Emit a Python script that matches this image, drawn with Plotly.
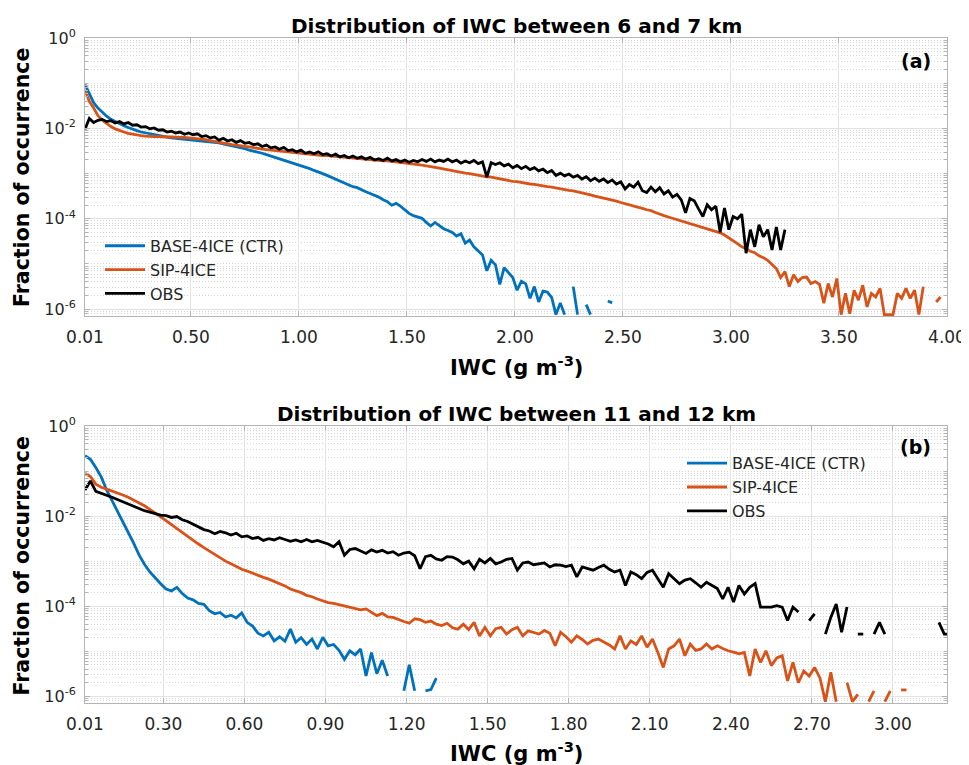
import plotly.graph_objects as go

# IWC bins: 0.01, 0.03, 0.05 ... g m-3 (step 0.02)
BIN_START = 0.01
BIN_STEP = 0.02

# log10(fraction of occurrence); None = empty bin
# ---- panel (a): 6-7 km ----
base_a = [
    -1.03, -1.25, -1.43, -1.55, -1.65, -1.73, -1.80, -1.85, -1.90, -1.94,   # 0.01
    -1.98, -2.02, -2.05, -2.08, -2.10, -2.12, -2.14, -2.16, -2.18, -2.20,   # 0.21
    -2.21, -2.22, -2.23, -2.24, -2.25, -2.25, -2.26, -2.27, -2.28, -2.29,   # 0.41
    -2.31, -2.32, -2.34, -2.36, -2.38, -2.40, -2.43, -2.45, -2.48, -2.50,   # 0.61
    -2.53, -2.55, -2.58, -2.61, -2.65, -2.68, -2.71, -2.74, -2.77, -2.80,   # 0.81
    -2.83, -2.86, -2.89, -2.93, -2.96, -3.00, -3.04, -3.08, -3.12, -3.17,   # 1.01
    -3.21, -3.25, -3.29, -3.31, -3.36, -3.40, -3.44, -3.48, -3.52, -3.58,   # 1.21
    -3.62, -3.70, -3.66, -3.72, -3.80, -3.88, -3.93, -3.96, -3.99, -4.08,   # 1.41
    -4.16, -4.08, -4.15, -4.22, -4.26, -4.30, -4.38, -4.33, -4.54, -4.47,   # 1.61
    -4.62, -4.70, -4.80, -5.15, -4.92, -5.02, -5.45, -5.08, -5.20, -5.30,   # 1.81
    -5.58, -5.38, -5.44, -5.76, -5.50, -5.84, -5.60, -5.62, -5.74, -6.12,   # 2.01
    -5.86, -6.12, None, -5.50, -6.12, None, -5.90, -6.12, None, None,       # 2.21
    None, -5.82, -5.86,                                                     # 2.41
]
sip_a = [
    -1.15, -1.40, -1.55, -1.72, -1.82, -1.90, -1.96, -2.01, -2.05, -2.08,   # 0.01
    -2.11, -2.13, -2.15, -2.16, -2.17, -2.18, -2.18, -2.18, -2.19, -2.19,   # 0.21
    -2.19, -2.20, -2.20, -2.20, -2.21, -2.21, -2.22, -2.23, -2.25, -2.27,   # 0.41
    -2.29, -2.31, -2.33, -2.34, -2.36, -2.37, -2.39, -2.40, -2.41, -2.43,   # 0.61
    -2.44, -2.46, -2.47, -2.48, -2.50, -2.51, -2.52, -2.53, -2.54, -2.55,   # 0.81
    -2.56, -2.57, -2.57, -2.58, -2.59, -2.60, -2.60, -2.61, -2.62, -2.63,   # 1.01
    -2.64, -2.64, -2.65, -2.66, -2.67, -2.68, -2.69, -2.70, -2.71, -2.72,   # 1.21
    -2.72, -2.73, -2.74, -2.75, -2.76, -2.77, -2.78, -2.80, -2.81, -2.83,   # 1.41
    -2.84, -2.86, -2.88, -2.90, -2.92, -2.93, -2.95, -2.97, -2.99, -3.00,   # 1.61
    -3.02, -3.04, -3.05, -3.07, -3.08, -3.10, -3.11, -3.13, -3.15, -3.17,   # 1.81
    -3.18, -3.20, -3.21, -3.23, -3.24, -3.26, -3.27, -3.29, -3.30, -3.32,   # 2.01
    -3.33, -3.35, -3.37, -3.38, -3.40, -3.42, -3.44, -3.47, -3.50, -3.52,   # 2.21
    -3.54, -3.56, -3.58, -3.61, -3.64, -3.66, -3.69, -3.72, -3.74, -3.77,   # 2.41
    -3.80, -3.82, -3.86, -3.90, -3.93, -3.96, -3.99, -4.02, -4.05, -4.08,   # 2.61
    -4.11, -4.14, -4.16, -4.20, -4.22, -4.25, -4.28, -4.31, -4.36, -4.42,   # 2.81
    -4.48, -4.55, -4.62, -4.66, -4.72, -4.75, -4.82, -4.86, -4.92, -5.00,   # 3.01
    -5.10, -5.30, -5.17, -5.50, -5.24, -5.39, -5.30, -5.29, -5.43, -5.39,   # 3.21
    -5.45, -5.87, -5.43, -5.73, -5.32, -6.12, -5.65, -6.10, -5.58, -5.80,   # 3.41
    -5.47, -5.95, -5.65, -5.73, -5.54, -6.12, -6.12, -6.12, -5.65, -5.76,   # 3.61
    -5.54, -5.76, -5.58, -6.12, -5.50, None, None, -5.84, -5.73,            # 3.81
]
obs_a = [
    -2.02, -1.78, -1.87, -1.82, -1.80, -1.85, -1.83, -1.88, -1.85, -1.90,   # 0.01
    -1.87, -1.93, -1.92, -1.97, -1.96, -2.01, -1.99, -2.04, -2.03, -2.08,   # 0.21
    -2.06, -2.10, -2.08, -2.13, -2.10, -2.14, -2.12, -2.18, -2.16, -2.21,   # 0.41
    -2.19, -2.26, -2.22, -2.28, -2.25, -2.31, -2.27, -2.33, -2.31, -2.36,   # 0.61
    -2.34, -2.40, -2.37, -2.43, -2.41, -2.46, -2.42, -2.49, -2.47, -2.52,   # 0.81
    -2.48, -2.55, -2.52, -2.56, -2.52, -2.58, -2.56, -2.61, -2.57, -2.63,   # 1.01
    -2.60, -2.65, -2.61, -2.66, -2.63, -2.68, -2.64, -2.70, -2.67, -2.71,   # 1.21
    -2.66, -2.72, -2.69, -2.74, -2.70, -2.75, -2.71, -2.74, -2.69, -2.73,   # 1.41
    -2.68, -2.74, -2.70, -2.73, -2.68, -2.74, -2.70, -2.77, -2.72, -2.76,   # 1.61
    -2.71, -2.78, -2.74, -3.08, -2.76, -2.80, -2.76, -2.83, -2.79, -2.87,   # 1.81
    -2.82, -2.89, -2.84, -2.91, -2.87, -2.94, -2.90, -2.98, -2.93, -3.04,   # 2.01
    -2.99, -3.05, -3.01, -3.08, -3.04, -3.12, -3.07, -3.16, -3.10, -3.17,   # 2.21
    -3.12, -3.20, -3.14, -3.23, -3.18, -3.34, -3.24, -3.30, -3.19, -3.38,   # 2.41
    -3.42, -3.30, -3.40, -3.31, -3.45, -3.38, -3.52, -3.46, -3.58, -3.87,   # 2.61
    -3.55, -3.60, -3.78, -3.95, -3.69, -3.80, -3.72, -4.30, -3.76, -4.24,   # 2.81
    -3.95, -4.00, -3.90, -4.76, -4.24, -4.62, -4.13, -4.40, -4.24, -4.69,   # 3.01
    -4.18, -4.69, -4.24,                                                    # 3.21
]

# ---- panel (b): 11-12 km ----
base_b = [
    -0.66, -0.74, -0.92, -1.13, -1.42, -1.65, -1.90, -2.12, -2.35, -2.60,   # 0.01
    -2.86, -3.07, -3.24, -3.38, -3.50, -3.62, -3.66, -3.58, -3.72, -3.82,   # 0.21
    -3.86, -3.94, -3.96, -4.10, -4.17, -4.14, -4.24, -4.20, -4.26, -4.15,   # 0.41
    -4.36, -4.44, -4.60, -4.66, -4.58, -4.77, -4.68, -4.78, -4.51, -4.80,   # 0.61
    -4.70, -4.85, -4.73, -4.95, -4.69, -4.88, -4.85, -4.98, -5.18, -4.99,   # 0.81
    -5.08, -4.95, -5.55, -5.03, -5.50, -5.20, -5.55, None, None, -5.88,     # 1.01
    -5.30, -5.88, None, -5.88, -5.85, -5.60,                                # 1.21
]
sip_b = [
    -1.05, -1.12, -1.29, -1.36, -1.40, -1.44, -1.48, -1.53, -1.58, -1.64,   # 0.01
    -1.71, -1.77, -1.85, -1.93, -2.01, -2.10, -2.19, -2.28, -2.37, -2.45,   # 0.21
    -2.54, -2.62, -2.70, -2.78, -2.85, -2.92, -3.00, -3.06, -3.12, -3.18,   # 0.41
    -3.22, -3.27, -3.32, -3.36, -3.40, -3.45, -3.50, -3.55, -3.62, -3.66,   # 0.61
    -3.70, -3.76, -3.79, -3.84, -3.88, -3.92, -3.94, -3.97, -3.99, -4.03,   # 0.81
    -4.05, -4.08, -4.06, -4.14, -4.21, -4.16, -4.24, -4.25, -4.30, -4.34,   # 1.01
    -4.38, -4.28, -4.30, -4.36, -4.33, -4.40, -4.43, -4.38, -4.48, -4.51,   # 1.21
    -4.40, -4.52, -4.36, -4.66, -4.47, -4.66, -4.50, -4.47, -4.62, -4.52,   # 1.41
    -4.47, -4.66, -4.55, -4.58, -4.62, -4.54, -4.60, -4.88, -4.58, -4.68,   # 1.61
    -4.80, -4.66, -4.74, -4.84, -4.76, -4.73, -4.80, -4.86, -4.95, -4.66,   # 1.81
    -4.95, -4.77, -4.85, -4.66, -4.91, -4.73, -5.03, -5.36, -4.95, -4.88,   # 2.01
    -4.73, -5.10, -4.84, -4.98, -4.95, -4.84, -4.95, -4.88, -4.94, -4.99,   # 2.21
    -5.02, -5.06, -5.03, -5.55, -4.95, -5.25, -4.99, -5.32, -5.15, -5.10,   # 2.41
    -5.66, -5.25, -5.70, -5.44, -5.55, -5.36, -5.60, -6.12, -5.47, -6.12,   # 2.61
    None, -5.70, -6.12, -5.96, None, -6.12, -5.88, None, -6.12, -5.88,      # 2.81
    None, -5.86, -5.86,                                                     # 3.01
]
obs_b = [
    -1.42, -1.22, -1.45, -1.49, -1.54, -1.58, -1.63, -1.68, -1.73, -1.78,   # 0.01
    -1.84, -1.88, -1.91, -1.95, -1.98, -1.99, -2.03, -2.01, -2.08, -2.12,   # 0.21
    -2.18, -2.24, -2.30, -2.33, -2.39, -2.34, -2.37, -2.42, -2.38, -2.46,   # 0.41
    -2.44, -2.50, -2.47, -2.54, -2.50, -2.53, -2.48, -2.52, -2.56, -2.53,   # 0.61
    -2.57, -2.52, -2.57, -2.54, -2.58, -2.62, -2.68, -2.57, -2.87, -2.74,   # 0.81
    -2.72, -2.78, -2.83, -2.75, -2.80, -2.76, -2.82, -2.79, -2.87, -2.82,   # 1.01
    -2.80, -2.88, -3.17, -2.90, -2.87, -2.95, -2.98, -2.90, -2.91, -2.97,   # 1.21
    -3.06, -3.00, -3.17, -2.96, -3.04, -2.94, -3.06, -3.02, -2.96, -2.94,   # 1.41
    -3.20, -3.04, -3.02, -3.08, -3.06, -3.04, -3.13, -3.08, -3.09, -3.12,   # 1.61
    -3.09, -3.35, -3.13, -3.16, -3.20, -3.14, -3.09, -3.18, -3.24, -3.20,   # 1.81
    -3.54, -3.24, -3.30, -3.39, -3.25, -3.20, -3.39, -3.58, -3.28, -3.40,   # 2.01
    -3.50, -3.42, -3.39, -3.48, -3.58, -3.47, -3.55, -3.61, -3.84, -3.58,   # 2.21
    -3.91, -3.54, -3.73, -3.58, -3.50, -4.02, -4.02, -4.02, -3.99, -4.02,   # 2.41
    -4.32, -4.02, -4.13, None, -4.32, -4.17, None, -4.62, -4.25, -3.95,     # 2.61
    -4.58, -4.02, None, -4.62, -4.62, None, -4.62, -4.36, -4.62, None,      # 2.81
    None, None, None, None, None, None, None, None, -4.36, -4.62,           # 3.01
    -4.62,                                                                  # 3.21
]

SERIES = ["BASE-4ICE (CTR)", "SIP-4ICE", "OBS"]
COLORS = ["#0072BD", "#D95319", "#000000"]

xticks_a = [0.01, 0.5, 1.0, 1.5, 2.0, 2.5, 3.0, 3.5, 4.0]
xticks_b = [0.01, 0.3, 0.6, 0.9, 1.2, 1.5, 1.8, 2.1, 2.4, 2.7, 3.0]
yticks = [1e-6, 1e-4, 1e-2, 1]
ytick_text = ["10<sup>-6</sup>", "10<sup>-4</sup>", "10<sup>-2</sup>", "10<sup>0</sup>"]


def to_xy(logs):
    x = [round(BIN_START + BIN_STEP * i, 2) for i in range(len(logs))]
    y = [None if v is None else 10 ** v for v in logs]
    return x, y


FONT = "DejaVu Sans"
TXT = "#262626"
FRAME = "#b4b4b4"
GRID = "#e2e2e2"

fig = go.Figure()
panels = [
    ("x", "y", "legend", [base_a, sip_a, obs_a]),
    ("x2", "y2", "legend2", [base_b, sip_b, obs_b]),
]
for xa, ya, leg, data in panels:
    for name, color, logs in zip(SERIES, COLORS, data):
        x, y = to_xy(logs)
        fig.add_trace(go.Scatter(
            x=x, y=y, mode="lines", name=name,
            line=dict(color=color, width=2.8),
            connectgaps=False, xaxis=xa, yaxis=ya, legend=leg,
        ))

minor_vals = [m * 10.0 ** k for k in range(-7, 1) for m in range(1, 10)
              if not (m == 1 and k % 2 == 0)]


def xaxis(rng, ticks, anchor):
    return dict(
        domain=[0, 1], anchor=anchor, range=rng, automargin=False,
        tickvals=ticks, ticktext=[f"{t:.2f}" for t in ticks],
        showgrid=True, gridcolor=GRID, gridwidth=1, zeroline=False,
        showline=True, linecolor=FRAME, linewidth=1, mirror="ticks",
        ticks="inside", ticklen=5, tickcolor=FRAME, ticklabelstandoff=6,
        tickfont=dict(family=FONT, size=17, color=TXT),
    )


def yaxis(domain, anchor):
    return dict(
        domain=domain, anchor=anchor, type="log", range=[-6.15, 0],
        automargin=False,
        tickvals=yticks, ticktext=ytick_text,
        showgrid=True, gridcolor=GRID, gridwidth=1, zeroline=False,
        showline=True, linecolor=FRAME, linewidth=1, mirror="ticks",
        ticks="inside", ticklen=5, tickcolor=FRAME, ticklabelstandoff=5,
        tickfont=dict(family=FONT, size=16, color=TXT),
        minor=dict(tickvals=minor_vals, showgrid=True, griddash="1px,2px",
                   gridcolor="#d4d4d4", gridwidth=1,
                   ticks="inside", ticklen=3, tickcolor=FRAME),
    )


legend_style = dict(
    xanchor="left", yanchor="top", bgcolor="rgba(0,0,0,0)",
    font=dict(family=FONT, size=16, color=TXT), tracegroupgap=0,
    itemwidth=40,
)

bold = dict(family=FONT, color="#000000")
annotations = [
    dict(text="<b>Distribution of IWC between 6 and 7 km</b>", x=0.5, y=1.018,
         font=dict(size=20, **bold)),
    dict(text="<b>Distribution of IWC between 11 and 12 km</b>", x=0.5, y=0.4353,
         font=dict(size=20, **bold)),
    dict(text="<b>IWC (g m<sup>-3</sup>)</b>", x=0.5, y=0.5068,
         font=dict(size=21, **bold)),
    dict(text="<b>IWC (g m<sup>-3</sup>)</b>", x=0.5, y=-0.0737,
         font=dict(size=21, **bold)),
    dict(text="<b>Fraction of occurrence</b>", x=-0.0731, y=0.791, textangle=-90,
         font=dict(size=20.5, **bold)),
    dict(text="<b>Fraction of occurrence</b>", x=-0.0731, y=0.2068, textangle=-90,
         font=dict(size=20.5, **bold)),
    dict(text="<b>(a)</b>", x=0.964, y=0.966, font=dict(size=19, **bold)),
    dict(text="<b>(b)</b>", x=0.964, y=0.385, font=dict(size=19, **bold)),
]
for a in annotations:
    a.update(xref="paper", yref="paper", showarrow=False,
             xanchor="center", yanchor="middle")

# page body keeps its default 8 px margin, so the figure is 8 px smaller
fig.update_layout(
    width=961, height=757,
    margin=dict(l=77, r=22, t=30, b=62, autoexpand=False),
    paper_bgcolor="white", plot_bgcolor="white",
    font=dict(family=FONT, color=TXT),
    xaxis=xaxis([0.01, 4.0], xticks_a, "y"),
    yaxis=yaxis([0.582, 1.0], "x"),
    xaxis2=xaxis([0.01, 3.2], xticks_b, "y2"),
    yaxis2=yaxis([0.0, 0.4165], "x2"),
    legend=dict(x=0.0174, y=0.713, **legend_style),
    legend2=dict(x=0.6926, y=0.386, **legend_style),
    annotations=annotations,
    showlegend=True,
)

fig.write_html("out.html")
